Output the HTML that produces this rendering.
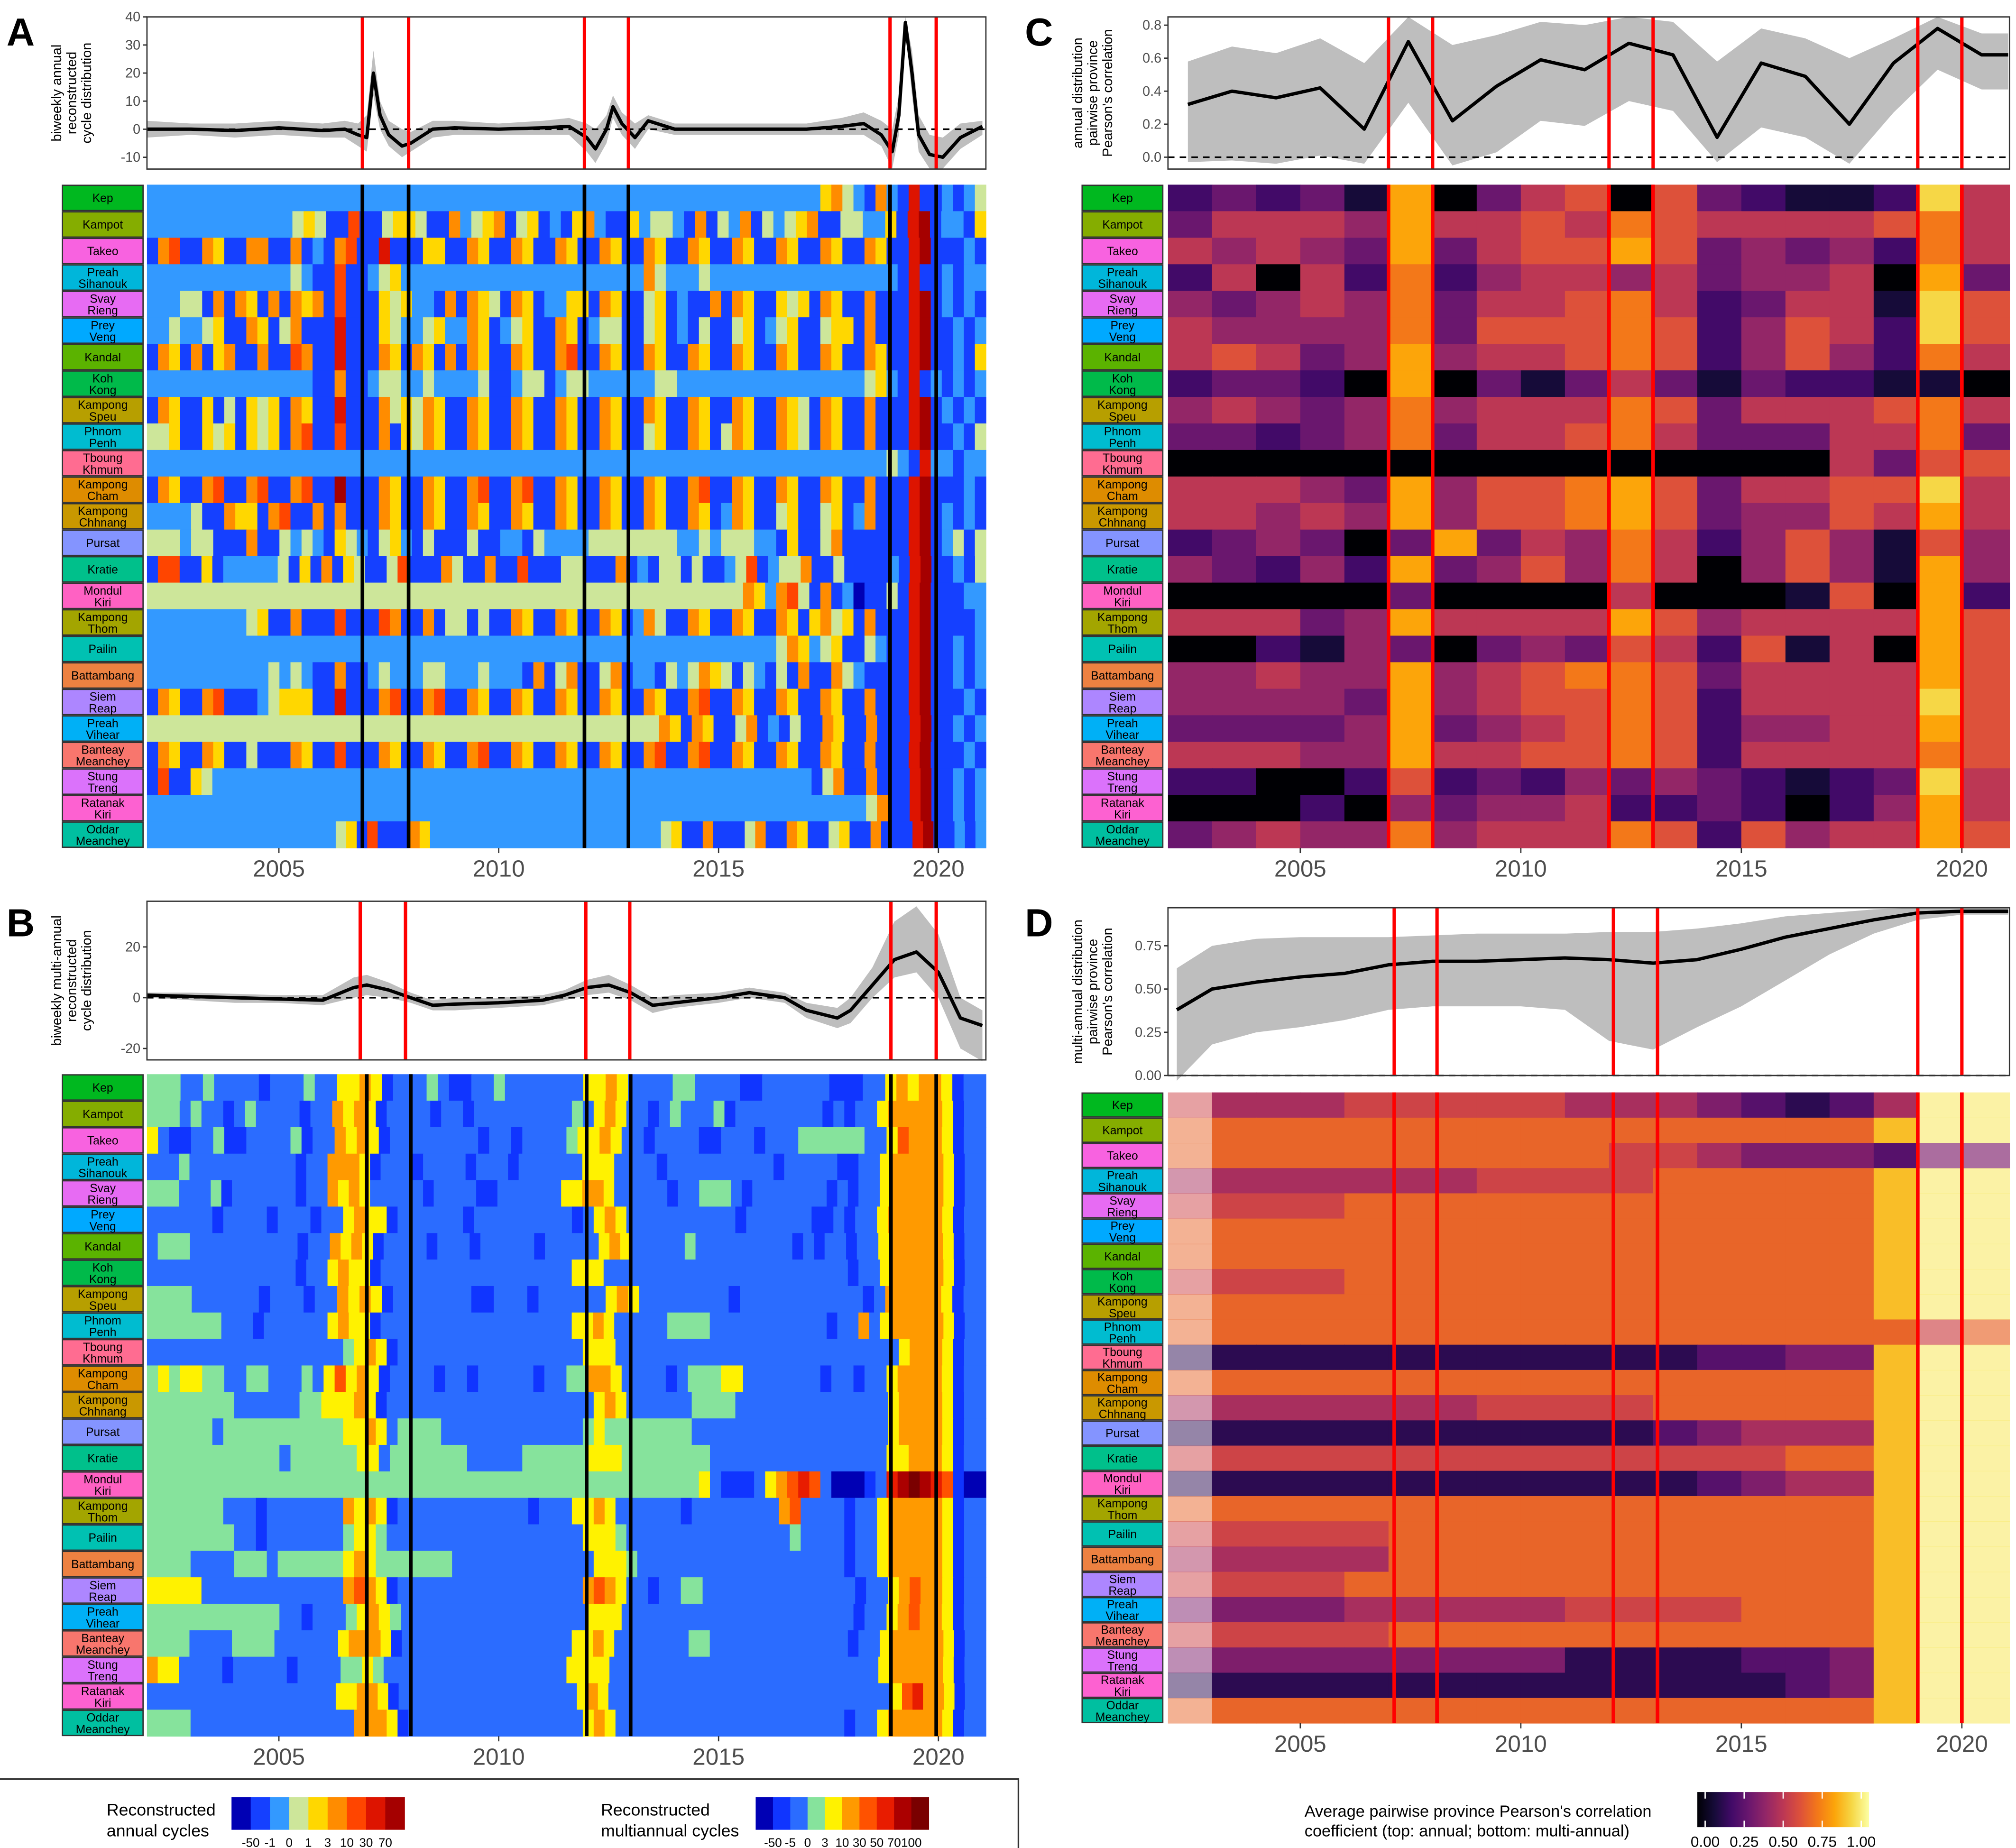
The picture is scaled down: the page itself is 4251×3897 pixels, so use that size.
<!DOCTYPE html>
<html><head><meta charset="utf-8">
<style>
html,body{margin:0;padding:0;background:#fff;}
svg{display:block;font-family:"Liberation Sans",Arial,sans-serif;}
</style></head>
<body>
<svg id="fig" xmlns="http://www.w3.org/2000/svg" width="4251" height="3897" viewBox="0 0 1550 1421" preserveAspectRatio="none">
<rect x="0" y="0" width="1550" height="1421" fill="#fff"/>
<g id="root"></g>
</svg>
<script>
const provinces=["Kep","Kampot","Takeo","Preah|Sihanouk","Svay|Rieng","Prey|Veng","Kandal","Koh|Kong","Kampong|Speu","Phnom|Penh","Tboung|Khmum","Kampong|Cham","Kampong|Chhnang","Pursat","Kratie","Mondul|Kiri","Kampong|Thom","Pailin","Battambang","Siem|Reap","Preah|Vihear","Banteay|Meanchey","Stung|Treng","Ratanak|Kiri","Oddar|Meanchey"];
const provColors=["#00b81f","#85ad00","#f862e0","#00b6da","#e76bf3","#00a9ff","#5bb300","#00ba4a","#b79f00","#00bcd0","#ff6c91","#de8c00","#c99800","#8494ff","#00c08b","#ff61c3","#a3a500","#00c1b2","#ed8141","#ad86ff","#00b0f6","#f8766d","#db72fb","#fd61d1","#00bfa0"];
// annual cycles heatmap (roughly quarter-year bins, 2002-2021)
const annualRows=[
"cccccccccccccccccccccccccccccccccccccccccccccccccccccccccccccefdcbfcbhbbcbcd",
"cccccccccccccdedbbgbbdeedbbfcdefbdebcbefcbbecddcbfbdcfbdcdefbbddccebhibccbe",
"bfgbbfebbffbbfbcbfgbbhbbbeebbfebbfebbfebbfebbfebbfebbfebbfebbfebbfebbhibbbcb",
"cccccccccccccdcbbgbbcdeccccccccccccccccccccccfdcccdcccccccccccccccccbhbbcbcc",
"cccddbfbfebfbfefbgbbbedeccbfbfedbfebcceebfebbdebcbbfbfebbedebfebbfbbbhibcbcb",
"ccdccdebbfebdfbbbhbbbedccdeccfebcdebbfebcddbbdebcbdbbdebcdebbdeebfbbbhibbcbc",
"bfebfbefbbfbbgfbbhbbbfebfebfbfebbfebbfgbbfebbfebbfebbfebbfebbfebbfebbhibbcbe",
"cccccccccccccccbbfbbcddccdccccdbbcddbcddccccccddcccccccccccccccccdecbhbcbcbc",
"bfebbebdbedebfebbhbbbfdedfebbfebbfebbfebbfebbfebbfebbfebbfedbfebbfbbbhibcbcb",
"ddebbedebedebfgbbgbbbfbedfebbfebbfebbfebbfebbdebbfebdfebbfedbfebbfbbbhibbcbd",
"cccccccccccccccccccccccccccccccccccccccccccccccccccccccccccccccccccdcbhccbcc",
"bfebbfgbbfgbbfgbbibbbfebbfebbfgbbfgbbfebbfebbfebbfgbbfebbfebbfebbfbbbhibbbcb",
"ccccdbbfeebfgbbfbfbbbfebbfebbfebbfebbfebbfebbfebbfebcfebbdebbdebcfbbbhibcbcb",
"dddcddbbbfbbdcdcbedcbdecbdbbbdbbccbdccccddddddddccdcdddccbebbdfbbbbbbhibcdbd",
"bggbbebcccccdbebfbedbbdgbbbfdbbfbbgbbbddbbbfbcbddbdbbcdgbcddfbbdbbbbcbhibbcbd",
"ddddddddddddddddddddddddddddddddddddddddddddddddddddddfecfgdbfbcabbdbhibbbcc",
"cccccccccdebbfbbbgbbbgfbbfbddbdbbfebbfebbfebcfdbbfebbfebbfebefdebfbbbhibbbbc",
"cccccccccccccccccccccccccccccccccccccccccccccccccccccccccdfecdebbdcbbhibbcbc",
"cccccccccccdcdcbbfbbcdcccddcccdcccbfbdfbbdfbccbdcdfedbdcbdbfbbfdcbbbbhibbcbc",
"bfebbfgbbbcdeeebbhbbbfgbbfgbbfebbfebbfebbfebbfebbfgbbfebbfebbfebbfbbbhibbbcb",
"dddddddddddddddddddddddddddddddddddddddddddddddfebfebbdfbcbdbbfebbfbbbhibbcbc",
"bfebbfebbdbbbfebbgbbbfebbfebbfgbbfebbfebbfebbfgbbfgbbfebbfebbfebbfbbbhibbbcb",
"bgbbedcccccccccccccccccccccccccccccccccccccccccccccccccccccccbdfbbfbbbhibbcbc",
"ccccccccccccccccccccccccccccccccccccccccccccccccccccccccccccccccccdfbbhibbcbc",
"ccccccccccccccccccdebgbbbfeccccccccccccccccccccccdebbfbbbdfbbfebbdebbfbbbhibbcbc"
];
// multiannual cycles heatmap
const multiRows=[
"dddccdccccbcccdcceefebcccdcbbccdccccccceefeccccddccccbbccccccbbbccefeffebcc",
"dddcdccbcdccccbccfefebccccbccbcccccccccdcefeccbcdcccdbccccccccbcbccefffffebcc",
"ecbbccdbbccccdbccfefebccccccccbccbccccdeefeccbccccbbcccbcccddddddccegfffebcc",
"cccdccccccccccbccfffebcccbccccbcccbcccccceeeccccbccccccccccbcccccbbccefffffebcc",
"dddcccdbccccccbccfefecccccbccccbbcccccceeffecccccbccdddcbcccccccbcbccefffffebcc",
"ccccccbccccbcccbccefeebccccccbcccccccccbcefeccccccccccbccccccbbcbccefffffebcc",
"cdddccccccccccbccfefebccccbcccbcccccbcccccefecccccdcccccccccbcbccbccefffffebcc",
"ccccccccccccccbccefeebcccccccccccccccccceeecccccccccccccccccccccccbccefffffebcc",
"ddddccccccbcccbccfefebcccccccbbcccbccccccefeccccccccbcccccccccccbcfffffebcc",
"dddddddcccbccccccefeebcccccccccccccccccceefecccccddddcccccccccccbccfcefffffebcc",
"ccccccccccccccccccdefebccccccccccccccccceeeccccccccccccccccccccccccccefffebcc",
"dedeeddccddcccdcegefebccccbccbcccccbccddffeccccbcdddeecccccccbccbcceffffebcc",
"ddddddddccccccddeeefebcccccccccccccccccccefeccccccddddcccccccccccccceffffebcc",
"ddddddcdddddddddddeefecddddcccccccccccccdeddddddddcccccccccccccccccceffffebcc",
"ddddddddddddcddddddeecdddddddcccccddddddeeeddddddddcccccccccccccccceefffebcc",
"ddddddddddddddddddddddddddddddddddddddddddddddddddecbbbcefghgcaaabchijihgbaa",
"dddddddcccbcccccccfefebccccccccccccbccceefeccccccbccccccccfgccccbccefffffebcc",
"ddddddddccbcccccccdeedcccccccccccccccccceeedcccccccccccccccdccccbccefffffebcc",
"ddddccccdddcddddddefedddddddccccccccccccceeedcccccccccccccccccccbccefffffebcc",
"eeeeecccccccccccccfgfebcccccccccccccccccfgfeccbccddccccccccccccccbccefgffebcc",
"ddddddddddddccbcccdefedccccccccccccccccceeecccccccccccccccccccccbccefgffebcc",
"ddddccccddddccccccefffebcccccccccccccccceefecccccccddcccccccccccccbccefffffebcc",
"feeccccbcccccbccccddedccccccccccccccccceeeecccccccccccccccccccccccccefffffebcc",
"cccccccccccccccccceeffebcccccccccccccccccefeccccccccccccccccccccccccccceghffebcc",
"ddddcccccccccccccccfffebccccccccccccccccefecccccccccccccccccccccbccefffffebcc"
];
// pairwise correlation heatmaps (annual columns 2002-2020, digit = value*10)
const corrAnnual=[
"2323180356063211295","3555485565765555675","5454383566863434275","2505272455453445083","4345473556752355196",
"5444473666762465296","5653484556762464275","2332080313531322110","4543474555763555675","3323473556753335573",
"0000000000000005366","5554384667863556695","5545484667863446585","2343038354752464164","4324283464750464184",
"0000030000500016082","5553485555864555586","0021430343652615086","4454484567763555586","4444384566762555596",
"3333483456762445586","5554485566762555576","2200262324343212395","0002043445223202485","3454474555762645586"];
const corrMulti=[
"5444555554443212499","6666666666666666899","6666666666554333233","4444444555566666899","5555666666666666899",
"6666666666666666899","6666666666666666899","5555666666666666899","6666666666666666899","6666666666666666656",
"1111111111112233899","6666666666666666899","4444444555566666899","1111111111123444899","5555555555555566899",
"1111111111112344899","6666666666666666899","5555566666666666899","4444466666666666899","5555666666666666899",
"3333444445555666899","5555566666666666899","3333333331111223899","1111111111111123899","6666666666666666899"];
// line series
const aYears=[2002,2003,2004,2005,2006,2006.5,2006.8,2007.0,2007.15,2007.3,2007.5,2007.8,2008.0,2008.5,2009,2010,2011,2011.6,2012.0,2012.2,2012.45,2012.6,2012.8,2013.1,2013.4,2014,2015,2016,2017,2017.8,2018.3,2018.7,2018.95,2019.1,2019.25,2019.4,2019.55,2019.8,2020.1,2020.5,2021.0];
const aMean=[0,0,-0.5,0.5,-0.5,0,-2,-3,20,5,-2,-6,-5,0,0.5,0,0.5,1,-3,-7,0,8,2,-3,3,0,0,0,0,1,2,-2,-8,5,38,20,-2,-9,-10,-3,1];
const aHi=[3,2,2,3,2,3,2,5,28,10,3,0,-1,3,3,2,3,4,2,0,5,12,6,2,5,2,2,2,2,4,6,3,0,12,40,28,5,-2,-3,2,3];
const aLo=[-3,-2,-3,-2,-3,-3,-6,-8,12,0,-6,-10,-8,-3,-2,-2,-2,-2,-8,-12,-5,4,-2,-7,0,-2,-2,-2,-2,-2,-2,-6,-14,-2,36,12,-8,-14,-14,-7,-2];
const bYears=[2002,2003,2004,2005,2006,2006.7,2007,2007.5,2008,2008.5,2009,2010,2011,2011.5,2012,2012.5,2013,2013.5,2014,2015,2015.7,2016.5,2017,2017.7,2018,2018.5,2019,2019.5,2020,2020.5,2021];
const bMean=[1,0.5,0,-0.5,-1,4,5,3,0,-3,-2.5,-2,-1,1,4,5,2,-3,-2,0,2,0,-5,-8,-5,5,15,18,10,-8,-11];
const bHi=[2,2,1.5,1,1,8,9,6,2,-1,0,0,1,3,7,9,5,0,1,2,4,2,-2,-4,0,12,30,36,25,0,-5];
const bLo=[0,-1,-2,-2,-3,0,1,0,-2,-5,-5,-4,-3,-1,1,2,-1,-6,-4,-2,0,-2,-8,-12,-10,0,8,10,0,-20,-25];
const cYears=[2002.45,2003.45,2004.45,2005.45,2006.45,2007.45,2008.45,2009.45,2010.45,2011.45,2012.45,2013.45,2014.45,2015.45,2016.45,2017.45,2018.45,2019.45,2020.45,2021.05];
const cMean=[0.32,0.40,0.36,0.42,0.17,0.70,0.22,0.43,0.59,0.53,0.69,0.62,0.12,0.57,0.49,0.20,0.57,0.78,0.62,0.62];
const cHi=[0.58,0.67,0.63,0.72,0.57,0.85,0.68,0.74,0.82,0.80,0.85,0.82,0.58,0.78,0.72,0.60,0.72,0.85,0.75,0.75];
const cLo=[-0.03,-0.02,-0.04,0.01,-0.04,0.33,-0.05,0.03,0.22,0.19,0.34,0.28,-0.03,0.18,0.12,-0.04,0.27,0.53,0.41,0.41];
const dYears=[2002.2,2003,2004,2005,2006,2007,2008,2009,2010,2011,2012,2013,2014,2015,2016,2017,2018,2019,2020,2021.05];
const dMean=[0.38,0.50,0.54,0.57,0.59,0.64,0.66,0.66,0.67,0.68,0.67,0.65,0.67,0.73,0.80,0.85,0.90,0.94,0.95,0.95];
const dHi=[0.62,0.75,0.79,0.80,0.80,0.80,0.81,0.82,0.82,0.82,0.83,0.83,0.85,0.88,0.92,0.94,0.96,0.97,0.97,0.97];
const dLo=[-0.03,0.18,0.25,0.28,0.32,0.38,0.40,0.40,0.40,0.38,0.20,0.15,0.28,0.40,0.55,0.70,0.82,0.90,0.93,0.93];
const yearTicks=[2005,2010,2015,2020];
const aTicks=[-10,0,10,20,30,40];
const bTicks=[-20,0,20];
const cTicks=[0.0,0.2,0.4,0.6,0.8];
const dTicks=[0.00,0.25,0.50,0.75];
const annualLegendLabels=["-50","-1","0","1","3","10","30","70"];
const multiLegendLabels=["-50","-5","0","3","10","30","50","70","100"];
const corrLegendLabels=["0.00","0.25","0.50","0.75","1.00"];

const annualPal={a:"#0000b4",b:"#1540ff",c:"#3399ff",d:"#cde69a",e:"#ffd700",f:"#ff8c00",g:"#ff4500",h:"#dd1400",i:"#a50000"};
const multiPal={a:"#0000b4",b:"#1035ff",c:"#2b6cff",d:"#86e39c",e:"#fff200",f:"#ff9a00",g:"#ff5200",h:"#e81c00",i:"#ab0000",j:"#7a0000"};
const infernoStops=[[0,0,0,4],[0.1,22,11,57],[0.2,66,10,104],[0.3,106,23,110],[0.4,147,38,103],[0.5,188,55,84],[0.6,221,81,58],[0.7,243,120,25],[0.8,252,165,10],[0.9,246,215,70],[1,252,255,164]];
function inferno(v){v=Math.max(0,Math.min(1,v));for(let i=1;i<infernoStops.length;i++){const a=infernoStops[i-1],b=infernoStops[i];if(v<=b[0]){const t=(v-a[0])/(b[0]-a[0]);return `rgb(${Math.round(a[1]+t*(b[1]-a[1]))},${Math.round(a[2]+t*(b[2]-a[2]))},${Math.round(a[3]+t*(b[3]-a[3]))})`;}}return "rgb(252,255,164)";}

const NS="http://www.w3.org/2000/svg";
const root=document.getElementById('root');
function mk(tag,attrs,parent){const e=document.createElementNS(NS,tag);for(const k in attrs)e.setAttribute(k,attrs[k]);(parent||root).appendChild(e);return e;}
function txt(x,y,s,size,anchor,parent,extra){const t=mk('text',Object.assign({x:x,y:y,'font-size':size,'text-anchor':anchor||'middle',fill:'#000'},extra||{}),parent);t.textContent=s;return t;}
function xScale(x0,x1,y0,y1){return y=>x0+(y-y0)*(x1-x0)/(y1-y0);}

function panelLetter(x,y,s){const t=txt(x,y,s,30,'start',root,{'font-weight':'bold'});

}

function linePanel(id,X,top,bot,vmin,vmax,years,mean,lo,hi,ticks,fmt,title,redYears,rx0,rx1){
 const g=mk('g',{});
 
 
 const Y=v=>bot-(v-vmin)*(bot-top)/(vmax-vmin);
 let d='';for(let i=0;i<years.length;i++)d+=(i?'L':'M')+X(years[i]).toFixed(1)+','+Y(hi[i]).toFixed(1);
 for(let i=years.length-1;i>=0;i--)d+='L'+X(years[i]).toFixed(1)+','+Y(lo[i]).toFixed(1);
 const band=mk('path',{d:d+'Z',fill:'#bebebe'},g);
 
 
 const zl=mk('line',{x1:rx0,x2:rx1,y1:Y(0),y2:Y(0),stroke:'#000','stroke-width':1.2,'stroke-dasharray':'5,4'},g);
 
 
 let p='';for(let i=0;i<years.length;i++)p+=(i?'L':'M')+X(years[i]).toFixed(1)+','+Y(mean[i]).toFixed(1);
 const ml=mk('path',{d:p,fill:'none',stroke:'#000','stroke-width':2.6,'stroke-linejoin':'round'},g);
 
 
 redYears.forEach(yr=>{const l=mk('line',{x1:X(yr),x2:X(yr),y1:top,y2:bot,stroke:'#ff0000','stroke-width':2.6},g);
  
  });
 const fr=mk('rect',{x:rx0,y:top,width:rx1-rx0,height:bot-top,fill:'none',stroke:'#333','stroke-width':1},g);
 
 
 ticks.forEach(v=>{mk('line',{x1:rx0-3,x2:rx0,y1:Y(v),y2:Y(v),stroke:'#333','stroke-width':1},g);
  const t=txt(rx0-5,Y(v)+3.5,fmt(v),10.5,'end',g,{fill:'#4d4d4d'});
  
  });
 const tg=mk('g',{transform:`translate(${title.x},${(top+bot)/2}) rotate(-90)`},g);
 title.lines.forEach((s,i)=>{const t=txt(0,(i-(title.lines.length-1)/2)*11.5+3.5,s,10.5,'middle',tg);
  
  });
}

function rowLabels(id,x0,x1,top,bot){
 const rh=(bot-top)/provinces.length;
 provinces.forEach((p,i)=>{const y=top+i*rh;
  const r=mk('rect',{x:x0,y:y+0.5,width:x1-x0,height:rh-1,fill:provColors[i],stroke:'#333','stroke-width':1});
  
  
  const parts=p.split('|');
  parts.forEach((s,k)=>{const t=txt((x0+x1)/2,parts.length==1?y+rh/2+3.2:y+rh/2-1+k*9,s,9,'middle');
   
   });});
}

function heatBins(id,X,x1edge,top,bot,rows,pal,lineYears,lineColor){
 const g=mk('g',{});
 
 
 const rh=(bot-top)/rows.length;
 rows.forEach((s,r)=>{const binYrs=19.08/s.length;let i=0;while(i<s.length){let j=i;while(j<s.length&&s[j]==s[i])j++;
  const xa=X(2002+i*binYrs);const xb=(j>=s.length)?x1edge:X(2002+j*binYrs);
  const c=mk('rect',{x:xa.toFixed(2),y:(top+r*rh).toFixed(2),width:(xb-xa+0.3).toFixed(2),height:(rh+0.3).toFixed(2),fill:pal[s[i]]},g);
  
  
  i=j;}});
 lineYears.forEach(yr=>{const l=mk('line',{x1:X(yr),x2:X(yr),y1:top,y2:bot,stroke:lineColor,'stroke-width':2.8},g);
  
  });
}
function heatCorr(id,X,x1edge,top,bot,rows,lineYears,fade,offset){
 const g=mk('g',{});
 
 
 const rh=(bot-top)/rows.length;
 rows.forEach((s,r)=>{for(let i=0;i<s.length;i++){const xa=X(2002+i);const xb=(i==s.length-1)?x1edge:X(2003+i);
  let op=1;if(fade){if(i==0)op=0.5;else if(i>=s.length-2)op=0.65;}
  const c=mk('rect',{x:xa.toFixed(2),y:(top+r*rh).toFixed(2),width:(xb-xa+0.3).toFixed(2),height:(rh+0.3).toFixed(2),fill:inferno(parseInt(s[i])/10+offset),opacity:op},g);
  
  }});
 lineYears.forEach(yr=>{const l=mk('line',{x1:X(yr),x2:X(yr),y1:top,y2:bot,stroke:'#ff0000','stroke-width':2.8},g);
  
  });
}
function yearAxis(id,X,y){
 yearTicks.forEach(yr=>{mk('line',{x1:X(yr),x2:X(yr),y1:y,y2:y+4,stroke:'#333','stroke-width':1});
  const t=txt(X(yr),y+22,String(yr),18,'middle',root,{fill:'#4d4d4d'});
  
  });
}

// Panel A
const XA=xScale(113,757,2002,2021.05);
linePanel('panel-a',XA,13,130,-14.2,40,aYears,aMean,aLo,aHi,aTicks,v=>String(v),{x:55,lines:["biweekly annual","reconstructed","cycle distribution"]},[2006.9,2007.95,2011.95,2012.95,2018.9,2019.95],113,758);
rowLabels('panel-a',48,110,142,652);
heatBins('panel-a',XA,758,142,652,annualRows,annualPal,[2006.9,2007.95,2011.95,2012.95,2018.9,2019.95],'#000');
yearAxis('panel-a',XA,652);
// Panel B
const XB=XA;
linePanel('panel-b',XB,693,815,-24.5,38,bYears,bMean,bLo,bHi,bTicks,v=>String(v),{x:55,lines:["biweekly multi-annual","reconstructed","cycle distribution"]},[2006.85,2007.88,2011.98,2012.98,2018.92,2019.95],113,758);
rowLabels('panel-b',48,110,826,1335);
heatBins('panel-b',XB,758,826,1335,multiRows,multiPal,[2007.0,2008.0,2012.0,2013.0,2018.92,2019.95],'#000');
yearAxis('panel-b',XB,1335);
// Panel C
const XC=xScale(898,1545,2002,2021.08);
linePanel('panel-c',XC,13,130,-0.072,0.85,cYears,cMean,cLo,cHi,cTicks,v=>v.toFixed(1),{x:840,lines:["annual distribution","pairwise province","Pearson's correlation"]},[2007.0,2008.0,2012.0,2013.0,2019.0,2020.0],898,1545);
rowLabels('panel-c',832,894,142,652);
heatCorr('panel-c',XC,1545,142,652,corrAnnual,[2007.0,2008.0,2012.0,2013.0,2019.0,2020.0],false,0);
yearAxis('panel-c',XC,652);
// Panel D
const XD=XC;
linePanel('panel-d',XD,698,827,0,0.97,dYears,dMean,dLo,dHi,dTicks,v=>v.toFixed(2),{x:840,lines:["multi-annual distribution","pairwise province","Pearson's correlation"]},[2007.13,2008.1,2012.1,2013.1,2019.0,2020.0],898,1545);
rowLabels('panel-d',832,894,840,1325);
heatCorr('panel-d',XD,1545,840,1325,corrMulti,[2007.13,2008.1,2012.1,2013.1,2019.0,2020.0],true,0.05);
yearAxis('panel-d',XD,1325);

panelLetter(5,35,'A');panelLetter(5,720,'B');panelLetter(788,35,'C');panelLetter(788,720,'D');

// legends
const bx=mk('path',{d:'M0,1368 L783,1368 L783,1421',fill:'none',stroke:'#333','stroke-width':1.2});


function discreteLegend(id,x,y,w,h,cols,labels,titleX,lines){
 const cw=w/cols.length;
 cols.forEach((c,i)=>{const r=mk('rect',{x:x+i*cw,y:y,width:cw+0.3,height:h,fill:c});
  
  });
 labels.forEach((s,i)=>{const t=txt(x+(i+1)*cw,y+h+13,s,9.5,'middle');
  
  });
 lines.forEach((s,i)=>{const t=txt(titleX,y+14+i*16,s,13,'start');
  
  });
}
discreteLegend('annual-legend',178,1382,133,25,Object.values(annualPal),annualLegendLabels,82,["Reconstructed","annual cycles"]);
discreteLegend('multiannual-legend',581,1382,133,25,Object.values(multiPal),multiLegendLabels,462,["Reconstructed","multiannual cycles"]);
const defs=mk('defs',{});
const lg=mk('linearGradient',{id:'infg',x1:0,x2:1,y1:0,y2:0},defs);
for(let i=0;i<=10;i++)mk('stop',{offset:i/10,'stop-color':inferno(i/10)},lg);
const cb=mk('rect',{x:1305,y:1378,width:132,height:27,fill:'url(#infg)'});


corrLegendLabels.forEach((s,i)=>{const x=1305+6+i*30;mk('line',{x1:x,x2:x,y1:1378,y2:1383,stroke:'#fff','stroke-width':1});mk('line',{x1:x,x2:x,y1:1400,y2:1405,stroke:'#fff','stroke-width':1});
 const t=txt(x,1420,s,11.5,'middle');
 
 });
["Average pairwise province Pearson's correlation","coefficient (top: annual; bottom: multi-annual)"].forEach((s,i)=>{const t=txt(1003,1397+i*15,s,12.5,'start');
 
 });
</script>
</body></html>
